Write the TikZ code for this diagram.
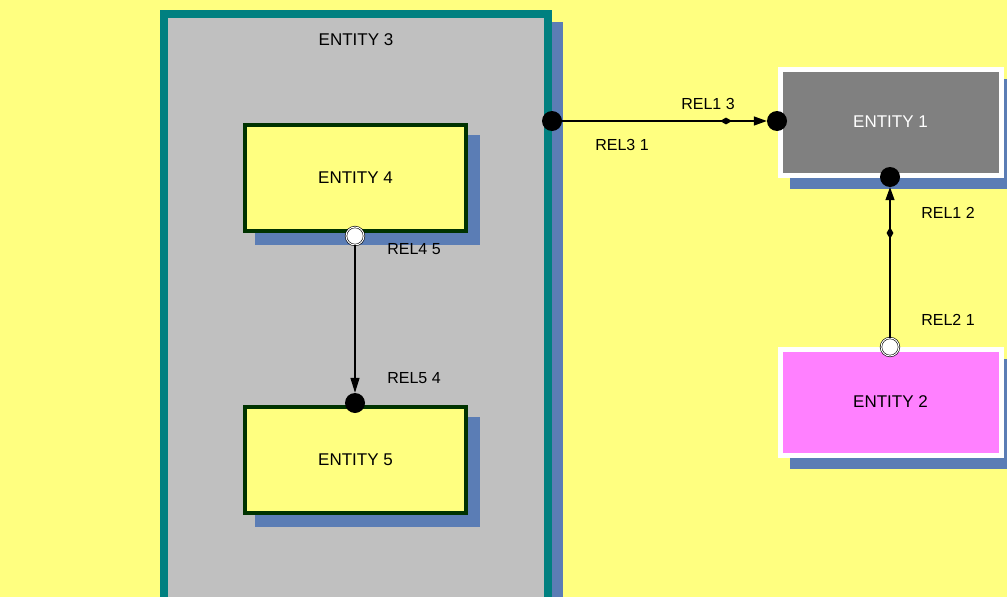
\documentclass[tikz,border=0pt]{standalone}
\usepackage{fontspec}
\setmainfont{Liberation Sans}
\usetikzlibrary{shapes.geometric,arrows.meta}
\definecolor{bgy}{HTML}{FFFF80}
\definecolor{shad}{HTML}{5B7DB5}
\definecolor{teal3}{HTML}{008080}
\definecolor{grey3}{HTML}{C0C0C0}
\definecolor{dgreen}{HTML}{003300}
\definecolor{pinkE}{HTML}{FF80FF}
\tikzset{
  ent/.style={minimum width=221pt,minimum height=106pt,line width=4pt,font=\fontsize{17}{20}\selectfont},
  shadowbox/.style={fill=shad,draw=none},
  dot/.style={circle,fill=black,inner sep=0pt,minimum size=20pt},
  odot/.style={circle,fill=white,draw=black,double=white,double distance=1pt,line width=0.6pt,inner sep=0pt,minimum size=18pt},
  rel/.style={font=\fontsize{16}{19}\selectfont},
  conn/.style={line width=1.3pt},
  dia/.style={diamond,fill=black,inner sep=0pt,minimum width=12pt,minimum height=7pt},
  dia2/.style={diamond,fill=black,inner sep=0pt,minimum width=7pt,minimum height=12pt}
}
\begin{document}
\begin{tikzpicture}[x=1pt,y=-1pt]
\fill[bgy] (0,0) rectangle (1007,597);
\useasboundingbox (0,0) rectangle (1007,597);
% Entity 3
\fill[shad] (172,22) rectangle (563,597);
\draw[teal3,fill=grey3,line width=8pt] (164,14) rectangle (548,601);
\node[font=\fontsize{17}{20}\selectfont] (e3) at (356,40) {ENTITY 3};
% Entity 4
\fill[shadowbox] (255,135) rectangle (480,245);
\node[ent,draw=dgreen,fill=bgy] (e4) at (355.5,178) {ENTITY 4};
% Entity 5
\fill[shadowbox] (255,417) rectangle (480,527);
\node[ent,draw=dgreen,fill=bgy] (e5) at (355.5,460) {ENTITY 5};
% Entity 1
\fill[shadowbox] (790,79) rectangle (1007,189);
\node[ent,draw=white,fill=gray!100!white,fill=gray,text=white,line width=5pt] (e1) at (890.5,122) {ENTITY 1};
% Entity 2
\fill[shadowbox] (790,359) rectangle (1007,469);
\node[ent,draw=white,fill=pinkE,line width=5pt] (e2) at (890.5,402) {ENTITY 2};
% connectors
\node[dot] (p31) at (552,121) {};
\node[dot] (p13) at (777,121) {};
\draw[conn,-{Triangle[length=13pt,width=9pt]}] (p31) -- (p13.west);
\node[dia] (d1) at (726,121) {};
\node[rel] (l13) at (708,104) {REL1 3};
\node[rel] (l31) at (622,145) {REL3 1};

\node[dot] (p12) at (890,177) {};
\node[odot] (p21) at (890,347) {};
\draw[conn,-{Triangle[length=13pt,width=9pt]}] (p21) -- (p12.south);
\node[dia2] (d2) at (890,233) {};
\node[rel] (l12) at (948,213) {REL1 2};
\node[rel] (l21) at (948,320) {REL2 1};

\node[odot] (p45) at (355,236) {};
\node[dot] (p54) at (355,403) {};
\draw[conn,-{Triangle[length=15pt,width=9pt]}] (p45) -- (p54.north);
\node[rel] (l45) at (414,249) {REL4 5};
\node[rel] (l54) at (414,378) {REL5 4};
\end{tikzpicture}
\end{document}
